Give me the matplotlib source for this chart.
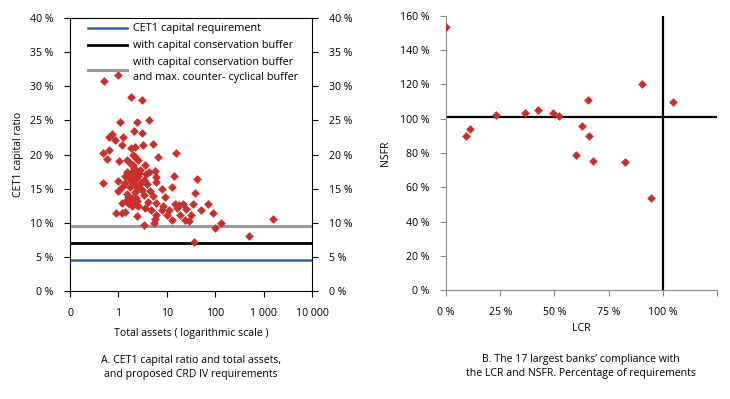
import matplotlib.pyplot as plt
import matplotlib.ticker as mticker

plt.rcParams['font.family'] = ['Open Sans', 'DejaVu Sans']
plt.rcParams['font.size'] = 7.6

# Panel A: total assets (log scale) and CET1 capital ratio (%)
assets = [0.50, 1.0, 1.79, 3.07, 4.37, 1.08, 2.42, 2.13, 3.03, 0.73,
          0.64, 0.85, 1.26, 1.17, 3.27, 5.25, 1.82, 2.2, 0.49, 0.64,
          0.57, 15.5, 6.66, 2.0, 1.03, 1.53, 2.2, 2.5, 2.0, 3.56,
          5.7, 2.3, 1.49, 1.8, 2.7, 3.8, 14.3, 5.95, 1.7, 2.3,
          3.4, 41.7, 0.47, 1.0, 1.4, 2.0, 2.9, 3.9, 6.0, 1.17,
          1.7, 2.5, 7.8, 12.6, 1.0, 2.2, 1.5, 3.3, 5.2, 9.2,
          38, 1.8, 1.5, 2.3, 4.0, 6.0, 14.8, 21.8, 34, 70,
          1.17, 1.6, 2.3, 7.9, 4.7, 16, 25, 51, 0.88, 1.4,
          1.2, 9.9, 6.0, 19, 31, 92, 2.46, 5.7, 12.6, 24,
          29, 5.4, 3.37, 130, 98, 36, 1550, 507,
          1.9, 2.1, 2.6, 1.6, 1.9, 2.4, 3.1, 1.7, 2.8, 4.5,
          2.0, 2.2, 1.4, 3.6, 4.2, 2.6, 1.9, 8.5, 11, 18]
cet1 = [30.8, 31.6, 28.4, 28.0, 25.1, 24.7, 24.7, 23.5, 23.1, 23.0,
        22.6, 22.2, 22.6, 21.4, 21.4, 21.6, 20.9, 21.1, 20.2, 20.7,
        19.3, 20.2, 19.7, 20.0, 19.1, 19.2, 19.7, 19.2, 18.5, 18.5,
        17.6, 17.6, 17.5, 17.3, 17.3, 17.1, 16.9, 16.7, 16.4, 16.4,
        16.3, 16.4, 15.8, 16.1, 15.8, 16.0, 15.8, 15.7, 16.0, 15.2,
        15.2, 15.2, 15.0, 15.2, 14.6, 14.5, 14.2, 14.1, 13.9, 13.8,
        14.3, 13.4, 13.3, 13.6, 13.0, 12.9, 12.7, 12.7, 12.7, 12.8,
        12.9, 12.9, 12.8, 11.9, 11.8, 12.2, 12.0, 11.9, 11.5, 11.6,
        11.5, 11.1, 11.1, 11.1, 11.1, 11.5, 11.0, 10.6, 10.4, 10.4,
        10.2, 9.9, 9.7, 9.9, 9.2, 7.2, 10.6, 8.0,
        17.0, 18.0, 16.8, 13.8, 12.4, 13.2, 14.8, 18.8, 17.8, 14.7,
        16.6, 15.5, 16.9, 12.1, 17.4, 12.5, 13.7, 12.4, 11.8, 12.6]

cet1_req = 4.5
conservation = 7.0
countercyclical = 9.5

# Panel B: LCR and NSFR of the 17 largest banks (% of requirement)
lcr = [0, 9.3, 11.0, 23.0, 36.3, 42.3, 49.3, 52.2, 65.5, 62.7,
       66.0, 60.1, 67.9, 82.7, 90.3, 104.6, 94.6]
nsfr = [153.8, 89.7, 94.2, 102.1, 103.1, 104.9, 103.5, 101.6, 111.1, 95.9,
        89.7, 79.0, 75.4, 74.7, 120.5, 109.9, 53.5]

red = '#c8302c'
blue = '#2a64ae'
gray = '#9a9a9a'

fig = plt.figure(figsize=(7.3, 3.99), dpi=100)

# ---- Panel A
ax1 = fig.add_axes([0.0959, 0.2707, 0.3315, 0.684])
ax1.set_xscale('log')
ax1.set_xlim(0.1, 10000)
ax1.set_ylim(0, 40)
ax1.axhline(cet1_req, color=blue, lw=1.8, label='CET1 capital requirement')
ax1.axhline(conservation, color='black', lw=2, label='with capital conservation buffer')
ax1.axhline(countercyclical, color=gray, lw=2.2,
            label='with capital conservation buffer\nand max. counter- cyclical buffer')
ax1.scatter(assets, cet1, marker='D', s=20, color=red, lw=0, zorder=3)

ax1.set_xticks([0.1, 1, 10, 100, 1000, 10000])
ax1.set_xticklabels(['0', '1', '10', '100', '1 000', '10 000'])
ax1.xaxis.set_minor_locator(mticker.NullLocator())
ax1.set_yticks(range(0, 41, 5))
ax1.yaxis.set_major_formatter(mticker.FuncFormatter(lambda v, p: f'{v:.0f} %'))
ax1.tick_params(direction='out', length=4, width=0.8, pad=8, right=True, labelright=True)
ax1.set_xlabel('Total assets ( logarithmic scale )', labelpad=7)
ax1.set_ylabel('CET1 capital ratio', labelpad=4)
leg = ax1.legend(loc='upper left', frameon=False, handlelength=3.6, handletextpad=0.6,
                 borderaxespad=0.1, labelspacing=0.55, bbox_to_anchor=(0.05, 1.0),
                 fontsize=7.8)
leg.get_texts()[2].set_linespacing(1.45)

# ---- Panel B
ax2 = fig.add_axes([0.611, 0.273, 0.371, 0.687])
ax2.set_xlim(0, 125)
ax2.set_ylim(0, 160)
ax2.axhline(101, color='black', lw=1.6)
ax2.axvline(100, color='black', lw=1.6)
ax2.scatter(lcr, nsfr, marker='D', s=20, color=red, lw=0, zorder=3)
for side in ['top', 'right']:
    ax2.spines[side].set_visible(False)
for side in ['left', 'bottom']:
    ax2.spines[side].set_color('#8a8a8a')
ax2.set_xticks(range(0, 126, 25))
ax2.set_xticklabels(['0 %', '25 %', '50 %', '75 %', '100 %', ''])
ax2.set_yticks(range(0, 161, 20))
ax2.yaxis.set_major_formatter(mticker.FuncFormatter(lambda v, p: f'{v:.0f} %'))
ax2.tick_params(direction='out', length=4, width=0.8, color='#8a8a8a', pad=8)
ax2.set_xlabel('LCR', labelpad=4)
ax2.set_ylabel('NSFR', labelpad=6)

fig.text(0.262, 0.078, 'A. CET1 capital ratio and total assets,\nand proposed CRD IV requirements',
         ha='center', va='center', fontsize=7.6, linespacing=1.35)
fig.text(0.796, 0.082, 'B. The 17 largest banks\u2019 compliance with\nthe LCR and NSFR. Percentage of requirements',
         ha='center', va='center', fontsize=7.6, linespacing=1.35)

fig.savefig('out.png', dpi=100)
